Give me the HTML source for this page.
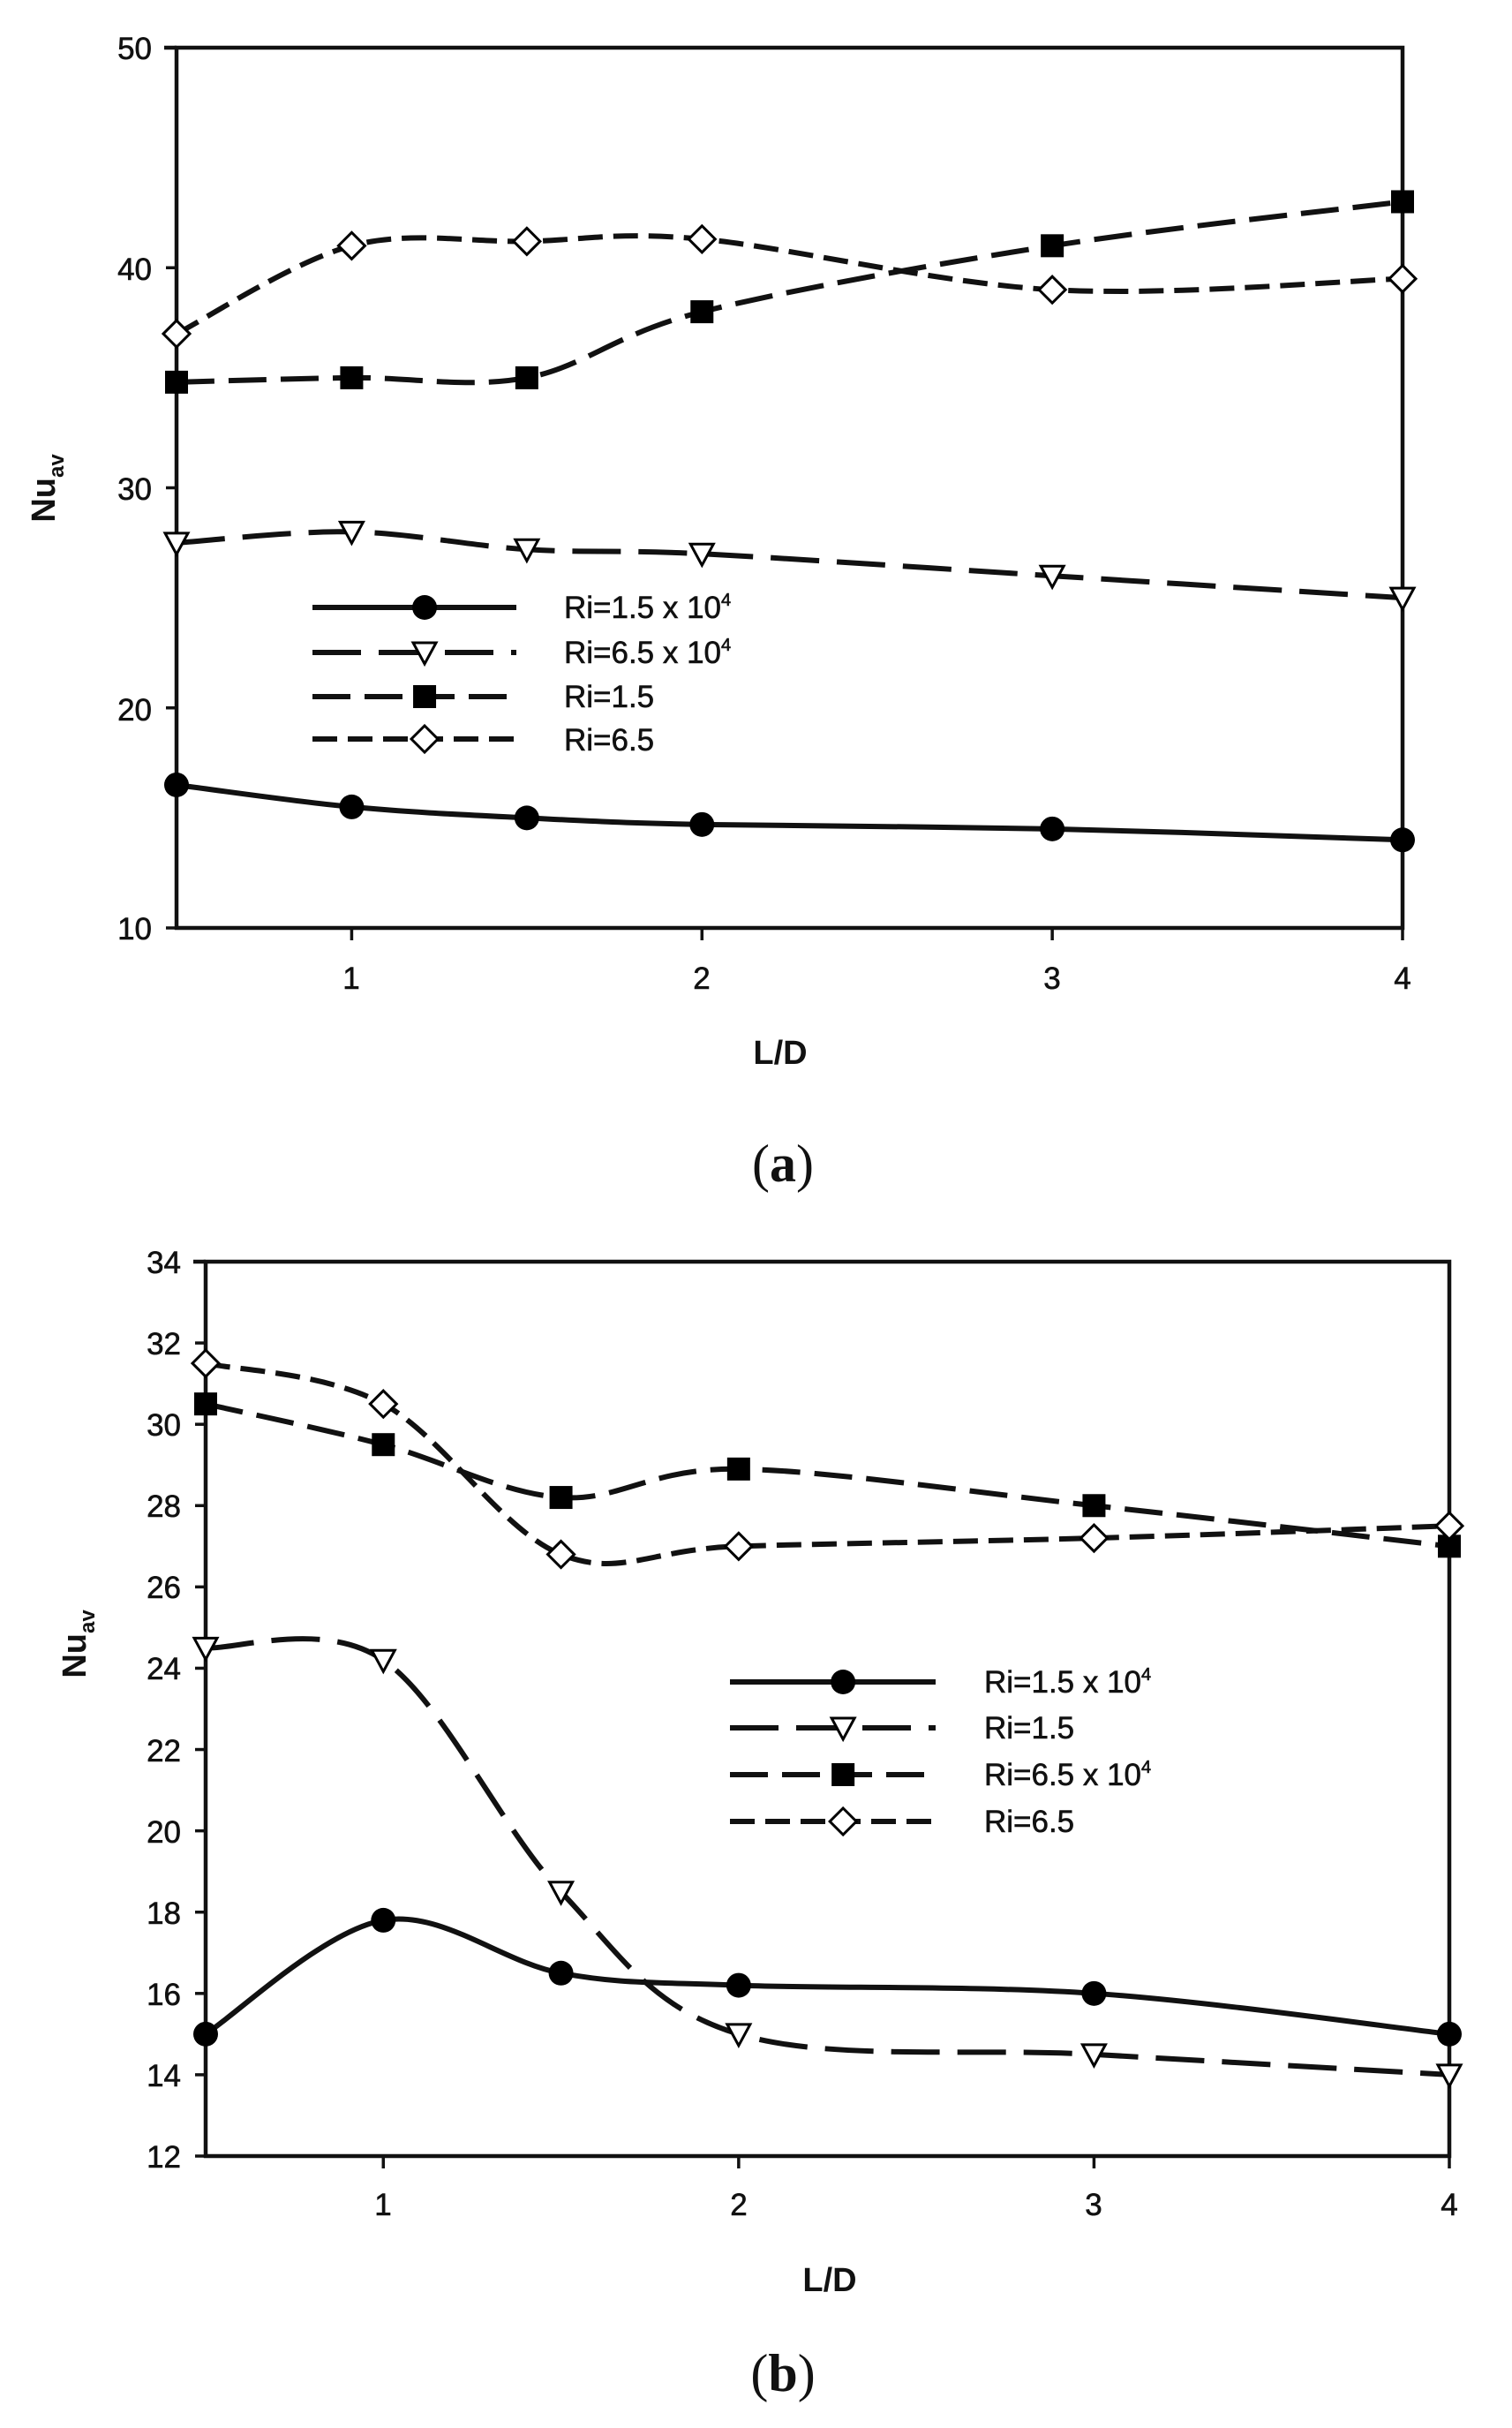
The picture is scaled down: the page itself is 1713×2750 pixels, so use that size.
<!DOCTYPE html>
<html><head><meta charset="utf-8"><style>
html,body{margin:0;padding:0;background:#fff;}
svg{display:block;}
.t{font-family:"Liberation Sans",sans-serif;font-size:35px;fill:#111;stroke:#111;stroke-width:0.6px;}
.lab{font-family:"Liberation Sans",sans-serif;font-size:38px;font-weight:bold;fill:#111;}
.cap{font-family:"Liberation Serif",serif;font-size:60px;fill:#111;}
</style></head><body>
<svg id="s" width="1713" height="2750" viewBox="0 0 1713 2750" xmlns="http://www.w3.org/2000/svg">
<rect width="1713" height="2750" fill="#fff"/>
<g id="g"></g>
<g class="t" text-anchor="end">
<text x="172" y="67">50</text><text x="172" y="317">40</text><text x="172" y="566">30</text><text x="172" y="816">20</text><text x="172" y="1064">10</text>
</g>
<g class="t" text-anchor="middle">
<text x="398" y="1120">1</text><text x="795" y="1120">2</text><text x="1192" y="1120">3</text><text x="1589" y="1120">4</text>
</g>
<text class="lab" x="884" y="1205" text-anchor="middle">L/D</text>
<text class="lab" transform="translate(62,553) rotate(-90)" text-anchor="middle">Nu<tspan font-size="24" dy="10">av</tspan></text>
<g class="t">
<text x="639" y="700">Ri=1.5 x 10<tspan font-size="20" dy="-14">4</tspan></text>
<text x="639" y="751">Ri=6.5 x 10<tspan font-size="20" dy="-14">4</tspan></text>
<text x="639" y="801">Ri=1.5</text>
<text x="639" y="850">Ri=6.5</text>
</g>
<text class="cap" x="887" y="1338" text-anchor="middle">(<tspan font-weight="bold">a</tspan>)</text>
<g class="t" text-anchor="end">
<text x="205" y="1442">34</text><text x="205" y="1534">32</text><text x="205" y="1626">30</text><text x="205" y="1718">28</text><text x="205" y="1810">26</text><text x="205" y="1902">24</text><text x="205" y="1995">22</text><text x="205" y="2087">20</text><text x="205" y="2179">18</text><text x="205" y="2271">16</text><text x="205" y="2363">14</text><text x="205" y="2455">12</text>
</g>
<g class="t" text-anchor="middle">
<text x="434" y="2509">1</text><text x="837" y="2509">2</text><text x="1239" y="2509">3</text><text x="1642" y="2509">4</text>
</g>
<text class="lab" x="940" y="2595" text-anchor="middle">L/D</text>
<text class="lab" transform="translate(97,1862) rotate(-90)" text-anchor="middle">Nu<tspan font-size="24" dy="10">av</tspan></text>
<g class="t">
<text x="1115" y="1917">Ri=1.5 x 10<tspan font-size="20" dy="-14">4</tspan></text>
<text x="1115" y="1969">Ri=1.5</text>
<text x="1115" y="2022">Ri=6.5 x 10<tspan font-size="20" dy="-14">4</tspan></text>
<text x="1115" y="2075">Ri=6.5</text>
</g>
<text class="cap" x="887" y="2708" text-anchor="middle">(<tspan font-weight="bold">b</tspan>)</text>
</svg>
<script>
var NS="http://www.w3.org/2000/svg",G=document.getElementById('g');
function el(t,a){var e=document.createElementNS(NS,t);for(var k in a)e.setAttribute(k,a[k]);G.appendChild(e);return e;}
var X=[0.5,1,1.5,2,3,4];
var dash={solid:"",tri:"55 20",sq:"43 16",dia:"28 12"};
function marker(type,x,y){
 if(type=="solid")el('circle',{cx:x,cy:y,r:14,fill:'#000'});
 else if(type=="tri")el('path',{d:'M'+(x-13)+' '+(y-11)+'L'+(x+13)+' '+(y-11)+'L'+x+' '+(y+13)+'Z',fill:'#fff',stroke:'#000','stroke-width':3});
 else if(type=="sq")el('rect',{x:x-13,y:y-13,width:26,height:26,fill:'#000'});
 else el('path',{d:'M'+x+' '+(y-15)+'L'+(x+15)+' '+y+'L'+x+' '+(y+15)+'L'+(x-15)+' '+y+'Z',fill:'#fff',stroke:'#000','stroke-width':3});
}
function spline(p){
 var d='M'+p[0][0]+' '+p[0][1];
 for(var i=0;i<p.length-1;i++){
  var p0=p[i-1]||p[i],p1=p[i],p2=p[i+1],p3=p[i+2]||p2;
  var c1x=p1[0]+(p2[0]-p0[0])/6,c1y=p1[1]+(p2[1]-p0[1])/6;
  var c2x=p2[0]-(p3[0]-p1[0])/6,c2y=p2[1]-(p3[1]-p1[1])/6;
  d+='C'+c1x+' '+c1y+' '+c2x+' '+c2y+' '+p2[0]+' '+p2[1];
 }
 return d;
}
function chart(c){
 el('path',{d:'M'+c.L+' '+c.T+'L'+c.L+' '+c.B+'L'+c.R+' '+c.B+'L'+c.R+' '+c.T+'Z',fill:'none',stroke:'#111','stroke-width':4.5});
 el('line',{x1:c.L-14,y1:c.T,x2:c.L,y2:c.T,stroke:'#111','stroke-width':4.5});
 for(var v=c.y0;v<=c.y1+1e-9;v+=c.dy){var y=c.B-(v-c.y0)*(c.B-c.T)/(c.y1-c.y0);el('line',{x1:c.L-12,y1:y,x2:c.L,y2:y,stroke:'#111','stroke-width':3.5});}
 [1,2,3,4].forEach(function(v){var x=c.L+(v-0.5)*(c.R-c.L)/3.5;el('line',{x1:x,y1:c.B,x2:x,y2:c.B+14,stroke:'#111','stroke-width':3.5});});
 c.series.forEach(function(s){
  var p=X.map(function(xv,i){return [c.L+(xv-0.5)*(c.R-c.L)/3.5,c.B-(s.y[i]-c.y0)*(c.B-c.T)/(c.y1-c.y0)];});
  el('path',{d:spline(p),fill:'none',stroke:'#111','stroke-width':6,'stroke-dasharray':dash[s.t]});
  p.forEach(function(q){marker(s.t,q[0],q[1]);});
 });
 c.leg.forEach(function(l){
  el('line',{x1:c.lx1,y1:l[1],x2:c.lx2,y2:l[1],stroke:'#111','stroke-width':6,'stroke-dasharray':dash[l[0]]});
  marker(l[0],(c.lx1+c.lx2)/2+(c.lx2-c.lx1)*0.05,l[1]);
 });
}
chart({L:200,R:1589,T:54,B:1051,y0:10,y1:50,dy:10,lx1:354,lx2:585,
 series:[{t:'solid',y:[16.5,15.5,15,14.7,14.5,14]},{t:'tri',y:[27.5,28,27.2,27,26,25]},{t:'sq',y:[34.8,35,35,38,41,43]},{t:'dia',y:[37,41,41.2,41.3,39,39.5]}],
 leg:[['solid',688],['tri',739],['sq',789],['dia',837]]});
chart({L:233,R:1642,T:1429,B:2442,y0:12,y1:34,dy:2,lx1:827,lx2:1060,
 series:[{t:'solid',y:[15,17.8,16.5,16.2,16,15]},{t:'tri',y:[24.5,24.2,18.5,15,14.5,14]},{t:'sq',y:[30.5,29.5,28.2,28.9,28,27]},{t:'dia',y:[31.5,30.5,26.8,27,27.2,27.5]}],
 leg:[['solid',1905],['tri',1957],['sq',2010],['dia',2063]]});
</script>
</body></html>
